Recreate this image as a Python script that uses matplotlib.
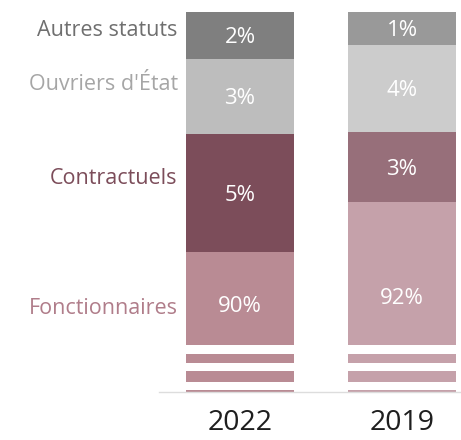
import matplotlib
matplotlib.use('Agg')
import matplotlib.pyplot as plt
from matplotlib.patches import Rectangle
import numpy as np

plt.rcParams['font.family'] = ['Open Sans', 'DejaVu Sans']

# data (share of staff, %)
years = ['2022', '2019']
categories = ['Fonctionnaires', 'Contractuels', "Ouvriers d'État", 'Autres statuts']
fonctionnaires = [89.8, 91.9]
contractuels = [5.0, 3.0]
ouvriers = [3.2, 3.7]
autres = [2.0, 1.4]
labels_fonc = ['90%', '92%']
labels_contr = ['5%', '3%']
labels_ouv = ['3%', '4%']
labels_autres = ['2%', '1%']

series = [fonctionnaires, contractuels, ouvriers, autres]
series_labels = [labels_fonc, labels_contr, labels_ouv, labels_autres]

# colours: one per category per year
colors = [['#b98b94', '#c5a1aa'],
          ['#7c4d5a', '#976f7a'],
          ['#bdbdbd', '#cccccc'],
          ['#7f7f7f', '#999999']]
cat_colors = ['#b07d8a', '#7c4d5a', '#a6a6a6', '#6f6f6f']

ymin, ybreak = 83.83, 85.83
fonc_label_pos = [0.226, 0.247]  # axes fraction, labels of the broken segment

fig = plt.figure(figsize=(4.61, 4.40), dpi=100)
ax = fig.add_axes([159/461, 48/440, 301/461, 380/440])

x = np.arange(len(years))
width = 0.667
bottom = np.zeros(len(years))
for k, vals in enumerate(series):
    vals = np.array(vals)
    ax.bar(x, vals, width, bottom=bottom, color=colors[k], linewidth=0, zorder=2)
    for i in range(len(years)):
        lo = max(bottom[i], ybreak)
        hi = bottom[i] + vals[i]
        if k == 0:
            ax.text(x[i], fonc_label_pos[i], series_labels[k][i], transform=ax.get_xaxis_transform(),
                    ha='center', va='center', color='white', fontsize=16, zorder=5)
        else:
            ax.annotate(series_labels[k][i], (x[i], (lo + hi) / 2), xytext=(0, -1.5),
                        textcoords='offset points', ha='center', va='center',
                        color='white', fontsize=16, zorder=5)
    bottom += vals

# category names on the left of the first bar
name_nudge = [-7, 10.5, 9, 3.5]
bottom = 0
for k, vals in enumerate(series):
    lo = max(bottom, ybreak)
    hi = bottom + vals[0]
    ax.annotate(categories[k], (x[0] - width / 2, (lo + hi) / 2), xytext=(-6, name_nudge[k]),
                textcoords='offset points', ha='right', va='center',
                color=cat_colors[k], fontsize=15.5, annotation_clip=False)
    bottom += vals[0]

# axis break: white stripes through the bottom of the bars
for y0, y1 in [(0.1, 0.1237), (0.0553, 0.0763), (0.0053, 0.0263)]:
    ax.add_patch(Rectangle((0, y0), 1, y1 - y0, transform=ax.transAxes,
                           facecolor='white', edgecolor='none', zorder=3))

ax.set_ylim(ymin, 100)
ax.set_xlim(-0.5, 1.358)
ax.set_yticks([])
ax.set_xticks(x)
ax.set_xticklabels(years, fontsize=20.5, color='#1e1e1e')
ax.tick_params(axis='x', length=0, pad=12)
for s in ['top', 'left', 'right']:
    ax.spines[s].set_visible(False)
ax.spines['bottom'].set_color('#dddddd')
ax.spines['bottom'].set_linewidth(1)
ax.spines['bottom'].set_zorder(4)

fig.savefig('out.png', dpi=100)
